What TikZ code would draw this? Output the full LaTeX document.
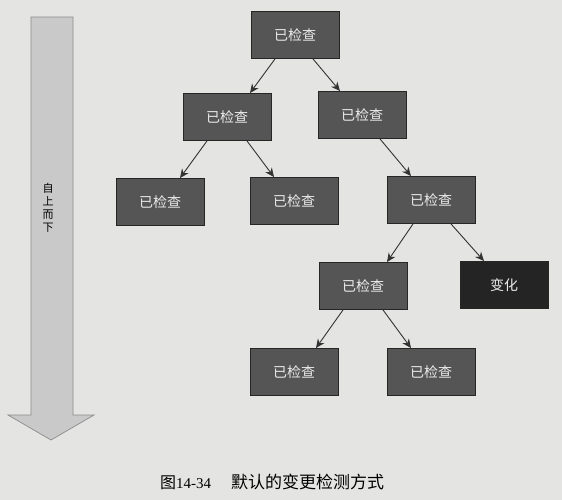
\documentclass[tikz,border=0pt]{standalone}
\usepackage{fontspec}
\setmainfont{Liberation Serif}
\newfontfamily\cjk{Noto Sans CJK SC}
\usetikzlibrary{calc,arrows.meta}
\definecolor{pagebg}{HTML}{E4E4E2}
\definecolor{boxfill}{HTML}{555555}
\definecolor{boxdark}{HTML}{242424}
\definecolor{bigarrow}{HTML}{C9C9C9}
\tikzset{
  chk/.style={draw=black!85, line width=0.9pt, fill=boxfill, minimum width=88pt, minimum height=47pt, inner sep=0pt, text=white!92!black, font=\cjk\fontsize{14}{14}\selectfont},
  chg/.style={chk, fill=boxdark},
  link/.style={draw=black!80, line width=0.9pt, -{Stealth[length=9pt,width=8pt]}},
}
\begin{document}
\begin{tikzpicture}[x=1pt,y=-1pt]
\fill[pagebg] (0,0) rectangle (562,500);
\useasboundingbox (0,0) rectangle (562,500);
% big arrow
\draw[fill=bigarrow, draw=black!45, line width=0.7pt]
  (31,17) -- (73,17) -- (73,415) -- (94,415) -- (51,440) -- (8,415) -- (31,415) -- cycle;
\node[font=\cjk\fontsize{11}{13}\selectfont, align=center, inner sep=0pt] (dir) at (48,208) {自\\上\\而\\下};
% nodes
\node[chk] (n1) at (295,35) {已检查};
\node[chk] (n2) at (227,117) {已检查};
\node[chk] (n3) at (362,115) {已检查};
\node[chk] (n4) at (160,202) {已检查};
\node[chk] (n5) at (294,201) {已检查};
\node[chk] (n6) at (431,200) {已检查};
\node[chk] (n7) at (363,286) {已检查};
\node[chg] (n8) at (504,285) {变化};
\node[chk] (n9) at (294,372) {已检查};
\node[chk] (n10) at (431,372) {已检查};
% connectors
\draw[link] ([xshift=-20pt]n1.south) -- ([xshift=23pt]n2.north);
\draw[link] ([xshift=18pt]n1.south) -- ([xshift=-22pt]n3.north);
\draw[link] ([xshift=-20pt]n2.south) -- ([xshift=20pt]n4.north);
\draw[link] ([xshift=20pt]n2.south) -- ([xshift=-20pt]n5.north);
\draw[link] ([xshift=18pt]n3.south) -- ([xshift=-20pt]n6.north);
\draw[link] ([xshift=-18pt]n6.south) -- ([xshift=24pt]n7.north);
\draw[link] ([xshift=20pt]n6.south) -- ([xshift=-20pt]n8.north);
\draw[link] ([xshift=-20pt]n7.south) -- ([xshift=22pt]n9.north);
\draw[link] ([xshift=20pt]n7.south) -- ([xshift=-20pt]n10.north);
% caption
\node[anchor=west, inner sep=0pt, font=\fontsize{15}{15}\selectfont] (cap) at (160,482) {{\cjk\fontsize{16}{16}\selectfont 图}14-34\hspace{20pt}{\cjk\fontsize{17}{17}\selectfont 默认的变更检测方式}};
\end{tikzpicture}
\end{document}
